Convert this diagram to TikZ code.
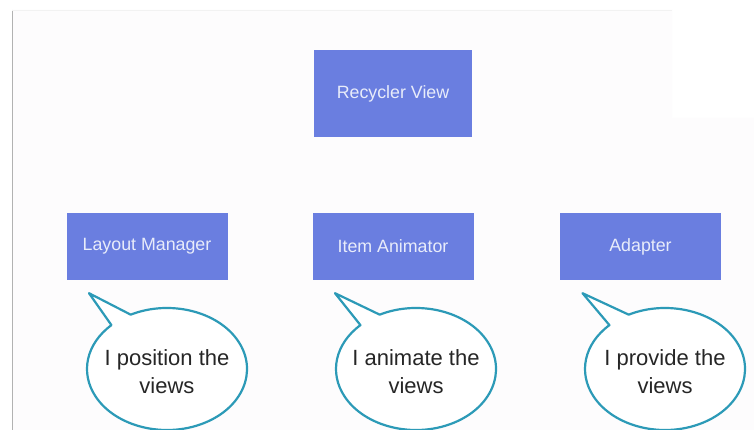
\documentclass[tikz,border=0pt]{standalone}
\usepackage{fontspec}
\setmainfont{Liberation Sans}
\begin{document}
\begin{tikzpicture}[x=1pt,y=-1pt,
  box/.style={fill=boxblue, text=boxtext, minimum width=161pt, minimum height=67pt,
    inner sep=0pt, font=\fontsize{17.8}{20}\selectfont},
  bubbletext/.style={align=center, text=black!85, font=\fontsize{22}{28}\selectfont},
  bubbleline/.style={draw=bubbleteal, line width=2.2pt, fill=white, line join=round}]
\definecolor{boxblue}{HTML}{6A7EE0}
\definecolor{boxtext}{HTML}{E8ECFA}
\definecolor{bubbleteal}{HTML}{2C9AB7}
\definecolor{panel}{HTML}{FDFCFD}
\useasboundingbox (0,0) rectangle (754,430);
\fill[white] (0,0) rectangle (754,430);
% slide panel
\fill[panel] (12,10) -- (672,10) -- (672,118) -- (754,118) -- (754,430) -- (12,430) -- cycle;
\draw[black!30, line width=1pt] (12,10) -- (12,430);
\draw[black!5, line width=1pt] (12,10.5) -- (672,10.5);

% boxes
\node[box, minimum width=158pt, minimum height=87pt] (rv) at (393,93.5) {Recycler View};
\node[box] (lm) at (147,246.5) {Layout Manager};
\node[box] (ia) at (393,246.5) {Item Animator};
\node[box] (ad) at (640.5,246.5) {Adapter};

% speech bubbles: centre, tail tip below the box, text
\foreach \cx/\bx/\name/\txt in {167/lm/b1/{I position the\\views},
                                416/ia/b2/{I animate the\\views},
                                665/ad/b3/{I provide the\\views}}{
  \coordinate (\name c) at (\cx,369);
  \coordinate (\name tip) at ([xshift=-58pt,yshift=-13pt]\bx.south);
  \draw[bubbleline] ([shift={(226:80 and 61)}]\name c) -- (\name tip)
     -- ([shift={(243:80 and 61)}]\name c)
     arc[start angle=243, end angle=586, x radius=80, y radius=61] -- cycle;
  \node[bubbletext] (\name) at ([yshift=-3pt]\name c) {\txt};
}
\end{tikzpicture}
\end{document}
